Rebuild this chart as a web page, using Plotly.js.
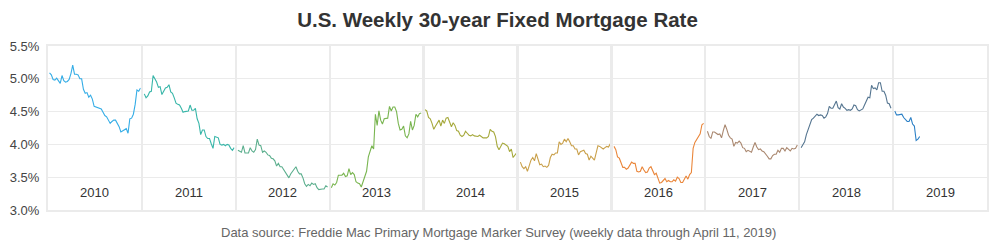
<!DOCTYPE html>
<html>
<head>
<meta charset="utf-8">
<script src="https://cdn.plot.ly/plotly-3.0.1.min.js"></script>
<style>html,body{margin:0;padding:0;background:#fff;}#chart{width:1000px;height:250px;}</style>
</head>
<body>
<div id="chart"></div>
<script>
// ---- data ----
const years = [2010, 2011, 2012, 2013, 2014, 2015, 2016, 2017, 2018, 2019];
const firstDates = ['2010-01-07','2011-01-06','2012-01-05','2013-01-03','2014-01-02','2015-01-08','2016-01-07','2017-01-05','2018-01-04','2019-01-03'];
const colors = ['#35ade6','#38b6a9','#5caf8e','#79b550','#a6a93c','#c9a04a','#ea863a','#aa8870','#557590','#2c80c6'];

const rate2010 = [5.09,5.06,4.99,4.98,5.01,4.97,4.93,5.05,4.97,4.95,4.96,4.99,5.08,5.21,5.07,5.07,5.06,5.00,5.00,4.84,4.78,4.79,4.72,4.75,4.69,4.58,4.57,4.57,4.56,4.54,4.49,4.44,4.42,4.36,4.32,4.35,4.37,4.37,4.32,4.27,4.19,4.21,4.23,4.24,4.17,4.39,4.40,4.46,4.61,4.83,4.81,4.86];
const rate2011 = [4.77,4.71,4.74,4.80,4.81,5.05,5.00,4.95,4.87,4.88,4.76,4.81,4.86,4.87,4.91,4.80,4.78,4.71,4.63,4.61,4.60,4.55,4.49,4.50,4.50,4.51,4.60,4.52,4.52,4.55,4.39,4.32,4.15,4.22,4.22,4.12,4.09,4.09,4.01,3.94,4.12,4.11,4.10,4.00,3.99,4.00,3.98,4.00,3.99,3.94,3.91,3.95];
const rate2012 = [3.91,3.89,3.88,3.98,3.87,3.87,3.87,3.95,3.90,3.88,3.92,4.08,3.99,3.98,3.88,3.90,3.88,3.84,3.83,3.79,3.78,3.75,3.67,3.71,3.66,3.66,3.62,3.56,3.53,3.49,3.55,3.59,3.62,3.66,3.59,3.55,3.55,3.49,3.40,3.36,3.39,3.37,3.41,3.39,3.40,3.34,3.31,3.32,3.32,3.32,3.37,3.35];
const rate2013 = [3.34,3.40,3.38,3.42,3.53,3.53,3.53,3.56,3.51,3.52,3.63,3.54,3.57,3.54,3.43,3.41,3.40,3.35,3.42,3.51,3.59,3.81,3.91,3.98,3.93,4.46,4.29,4.51,4.37,4.31,4.39,4.40,4.40,4.58,4.51,4.57,4.57,4.50,4.32,4.22,4.23,4.28,4.13,4.10,4.16,4.35,4.22,4.29,4.46,4.42,4.47,4.48];
const rate2014 = [4.53,4.51,4.41,4.39,4.32,4.23,4.28,4.33,4.37,4.28,4.37,4.32,4.40,4.41,4.34,4.27,4.33,4.29,4.21,4.20,4.14,4.12,4.14,4.20,4.17,4.14,4.13,4.15,4.13,4.13,4.12,4.14,4.12,4.10,4.10,4.10,4.12,4.23,4.20,4.19,4.12,3.97,3.92,3.98,4.02,4.01,3.99,3.97,3.89,3.93,3.80,3.83,3.87];
const rate2015 = [3.73,3.66,3.63,3.66,3.59,3.69,3.76,3.80,3.75,3.86,3.78,3.69,3.70,3.66,3.67,3.65,3.68,3.80,3.85,3.84,3.87,3.87,4.04,4.00,4.02,4.08,4.04,4.09,4.04,3.98,3.98,3.93,3.93,3.84,3.89,3.90,3.91,3.86,3.85,3.76,3.82,3.79,3.76,3.87,3.98,3.97,3.95,3.93,3.95,3.97,3.96,4.01];
const rate2016 = [3.97,3.92,3.81,3.79,3.72,3.65,3.65,3.62,3.64,3.68,3.73,3.71,3.71,3.59,3.58,3.59,3.66,3.61,3.57,3.58,3.64,3.66,3.60,3.54,3.56,3.48,3.41,3.42,3.45,3.48,3.43,3.45,3.43,3.43,3.46,3.44,3.50,3.48,3.42,3.42,3.47,3.52,3.47,3.54,3.57,3.94,4.03,4.08,4.13,4.16,4.30,4.32];
const rate2017 = [4.20,4.12,4.09,4.19,4.19,4.17,4.15,4.16,4.10,4.21,4.30,4.23,4.14,4.10,4.08,3.97,4.03,4.02,4.05,4.02,3.95,3.94,3.89,3.91,3.90,3.88,3.96,4.03,3.96,3.92,3.93,3.90,3.89,3.86,3.82,3.78,3.78,3.83,3.85,3.85,3.91,3.88,3.94,3.94,3.90,3.95,3.92,3.90,3.94,3.93,3.94,3.99];
const rate2018 = [3.95,3.99,4.04,4.15,4.22,4.32,4.38,4.40,4.43,4.46,4.44,4.45,4.44,4.40,4.42,4.47,4.58,4.55,4.55,4.61,4.66,4.56,4.54,4.62,4.57,4.55,4.52,4.53,4.52,4.54,4.60,4.59,4.53,4.51,4.52,4.54,4.60,4.65,4.72,4.71,4.90,4.85,4.86,4.83,4.94,4.94,4.81,4.81,4.75,4.63,4.62,4.55];
const rate2019 = [4.51,4.45,4.45,4.45,4.46,4.41,4.37,4.35,4.35,4.41,4.31,4.28,4.06,4.08,4.12];

const rates = [rate2010, rate2011, rate2012, rate2013, rate2014, rate2015, rate2016, rate2017, rate2018, rate2019];
const yTickVals = [3.0, 3.5, 4.0, 4.5, 5.0, 5.5];
const yTickText = ['3.0%', '3.5%', '4.0%', '4.5%', '5.0%', '5.5%'];
const titleText = 'U.S. Weekly 30-year Fixed Mortgage Rate';
const sourceText = 'Data source: Freddie Mac Primary Mortgage Marker Survey (weekly data through April 11, 2019)';

// weekly survey dates, one week apart from each year's first survey date
function weeklyDates(start, n) {
  const t0 = Date.parse(start + 'T00:00:00Z');
  const out = [];
  for (let i = 0; i < n; i++) out.push(new Date(t0 + i * 7 * 86400000).toISOString().slice(0, 10));
  return out;
}

const FONT = '"Liberation Sans", Arial, Helvetica, sans-serif';
const GRID = '#ebebeb';
const N = years.length;
const gap = 0.0012;

const traces = [];
const layout = {
  width: 1000, height: 250,
  margin: {l: 48, r: 13, t: 46, b: 40, pad: 0},
  paper_bgcolor: '#fff', plot_bgcolor: '#fff',
  showlegend: false,
  font: {family: FONT, color: '#333'},
  title: {
    text: '<b>' + titleText + '</b>',
    font: {family: FONT, size: 20.5, color: '#333'},
    x: 0.4975, xref: 'container', xanchor: 'center',
    y: 1 - 20 / 250, yref: 'container', yanchor: 'middle'
  },
  annotations: [],
  hovermode: false
};

for (let i = 0; i < N; i++) {
  const k = i === 0 ? '' : String(i + 1);
  const yr = years[i];
  traces.push({
    type: 'scatter', mode: 'lines',
    x: weeklyDates(firstDates[i], rates[i].length),
    y: rates[i],
    xaxis: 'x' + k, yaxis: 'y' + k,
    line: {color: colors[i], width: 1.1},
    hoverinfo: 'skip'
  });
  const d0 = i / N + (i === 0 ? 0 : gap);
  const d1 = (i + 1) / N - (i === N - 1 ? 0 : gap);
  layout['xaxis' + k] = {
    domain: [d0, d1],
    anchor: 'y' + k,
    type: 'date',
    range: [yr + '-01-01', yr + '-12-31'],
    showticklabels: false, ticks: '', showgrid: false, zeroline: false,
    showline: true, mirror: true, linecolor: GRID, linewidth: 2,
    fixedrange: true
  };
  const ya = {
    anchor: 'x' + k,
    domain: [0, 1],
    range: [3.0, 5.5],
    tickvals: yTickVals, ticktext: yTickText,
    showgrid: true, gridcolor: GRID, gridwidth: 1,
    zeroline: false,
    showline: true, mirror: true, linecolor: GRID, linewidth: 2,
    ticks: '', fixedrange: true,
    showticklabels: i === 0,
    tickfont: {family: FONT, size: 13, color: '#444'}
  };
  if (i > 0) ya.matches = 'y';
  else { ya.ticks = 'outside'; ya.ticklen = 4; ya.tickcolor = 'rgba(0,0,0,0)'; }
  layout['yaxis' + k] = ya;
  layout.annotations.push({
    xref: 'x' + k + ' domain', yref: 'y' + k,
    x: 0.5, y: 3.26, xanchor: 'center', yanchor: 'middle',
    text: String(yr), showarrow: false,
    font: {family: FONT, size: 13, color: '#333'}
  });
}

layout.annotations.push({
  xref: 'paper', yref: 'paper',
  x: (498 - 48) / 939, y: -22 / 164, xanchor: 'center', yanchor: 'middle',
  text: sourceText, showarrow: false,
  font: {family: FONT, size: 13, color: '#666'}
});

Plotly.newPlot('chart', traces, layout, {displayModeBar: false, staticPlot: true});
</script>
</body>
</html>
